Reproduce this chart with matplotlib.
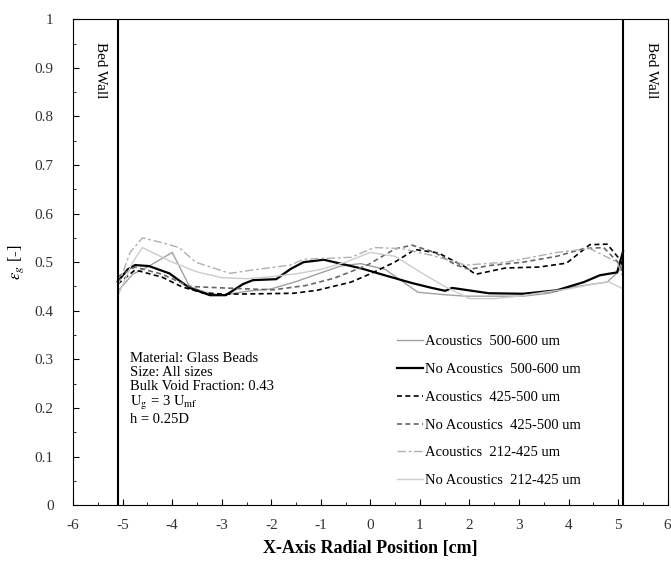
import matplotlib

matplotlib.use("Agg")
import matplotlib.pyplot as plt  # noqa: E402
from matplotlib.ticker import MultipleLocator  # noqa: E402

plt.rcParams["font.family"] = ["Liberation Serif", "DejaVu Serif"]
plt.rcParams["mathtext.fontset"] = "stix"
plt.rcParams["axes.unicode_minus"] = False

# --- data (x in cm, void fraction) ---
x_ac_500 = [-5.1, -4.8, -4.5, -4.0, -3.65, -3.3, -3.0, -2.5, -2.0, -1.5, -1.0, -0.6,
            -0.2, 0.3, 0.96, 1.5, 1.92, 2.5, 3.08, 3.6, 4.1, 4.78, 5.0, 5.1]
y_ac_500 = [0.44, 0.475, 0.49, 0.52, 0.45, 0.437, 0.432, 0.44, 0.445, 0.46, 0.478, 0.492,
            0.497, 0.485, 0.438, 0.433, 0.43, 0.43, 0.43, 0.436, 0.449, 0.459, 0.48, 0.5]

x_noac_500 = [-5.1, -4.9, -4.75, -4.47, -4.06, -3.65, -3.24, -2.92, -2.57, -2.37, -1.9,
              -1.61, -1.35, -0.94, -0.73, -0.18, 0.29, 0.84, 1.24, 1.51, 1.65, 1.92,
              2.39, 3.08, 3.76, 4.31, 4.63, 4.98, 5.1]
y_noac_500 = [0.46, 0.485, 0.494, 0.492, 0.477, 0.447, 0.432, 0.432, 0.455, 0.463, 0.465,
              0.486, 0.5, 0.505, 0.5, 0.487, 0.473, 0.457, 0.447, 0.441, 0.447, 0.443,
              0.436, 0.435, 0.442, 0.459, 0.473, 0.479, 0.522]

x_ac_425 = [-5.1, -4.75, -4.2, -3.8, -3.39, -2.92, -2.2, -1.55, -1.08, -0.39, 0.02, 0.49,
            0.9, 1.37, 1.92, 2.12, 2.73, 3.41, 3.96, 4.43, 4.78, 5.04, 5.1]
y_ac_425 = [0.455, 0.484, 0.469, 0.449, 0.437, 0.434, 0.435, 0.436, 0.442, 0.459, 0.477,
            0.5, 0.526, 0.519, 0.49, 0.475, 0.488, 0.49, 0.498, 0.536, 0.537, 0.505, 0.49]

x_noac_425 = [-5.1, -4.75, -4.2, -3.65, -2.98, -1.96, -1.3, -0.73, -0.06, 0.49, 0.84, 1.3,
              1.71, 2.0, 2.39, 3.08, 3.76, 4.31, 4.71, 5.04, 5.1]
y_noac_425 = [0.47, 0.49, 0.475, 0.45, 0.447, 0.443, 0.452, 0.467, 0.494, 0.527, 0.535,
              0.52, 0.495, 0.485, 0.493, 0.5, 0.512, 0.528, 0.53, 0.495, 0.47]

x_ac_212 = [-5.1, -4.85, -4.6, -4.2, -3.86, -3.53, -2.84, -2.37, -1.61, -1.35, -0.39, 0.08,
            0.63, 1.24, 1.92, 2.73, 3.76, 4.43, 4.98, 5.1]
y_ac_212 = [0.45, 0.52, 0.55, 0.54, 0.53, 0.5, 0.477, 0.484, 0.494, 0.506, 0.51, 0.53,
            0.528, 0.514, 0.494, 0.5, 0.52, 0.528, 0.5, 0.47]

x_noac_212 = [-5.1, -4.8, -4.6, -4.3, -4.0, -3.5, -3.0, -2.5, -2.0, -1.5, -1.0, -0.5, 0.0,
              0.5, 1.0, 1.5, 2.0, 2.5, 3.0, 3.5, 4.0, 4.5, 4.8, 5.1]
y_noac_212 = [0.43, 0.5, 0.53, 0.515, 0.5, 0.48, 0.468, 0.466, 0.47, 0.476, 0.485, 0.5,
              0.52, 0.512, 0.48, 0.45, 0.425, 0.425, 0.43, 0.438, 0.445, 0.455, 0.46, 0.445]

wall_x = [-5.1, 5.1]

fig = plt.figure(figsize=(6.71, 5.65), dpi=100)
ax = fig.add_axes([0.109, 0.106, 0.886, 0.86])

ax.plot(x_ac_500, y_ac_500, color="#a0a0a0", lw=1.0, label="Acoustics  500-600 um")
ax.plot(x_noac_500, y_noac_500, color="black", lw=1.6, label="No Acoustics  500-600 um")
ax.plot(x_ac_425, y_ac_425, color="black", lw=1.2, ls=(0, (3, 2)),
        label="Acoustics  425-500 um")
ax.plot(x_noac_425, y_noac_425, color="#666666", lw=1.2, ls=(0, (3, 2)),
        label="No Acoustics  425-500 um")
ax.plot(x_ac_212, y_ac_212, color="#b0b0b0", lw=1.0, ls=(0, (6, 2, 2, 2)),
        label="Acoustics  212-425 um")
ax.plot(x_noac_212, y_noac_212, color="#cccccc", lw=1.0, label="No Acoustics  212-425 um")

for wx in wall_x:
    ax.axvline(wx, color="black", lw=1.5)

ax.text(-5.45, 0.895, "Bed Wall", rotation=270, ha="center", va="center", fontsize=11)
ax.text(5.68, 0.895, "Bed Wall", rotation=270, ha="center", va="center", fontsize=11)

ax.text(-4.86, 0.315,
        "Material: Glass Beads\nSize: All sizes\nBulk Void Fraction: 0.43\n"
        "$\\mathrm{U_g}$ = 3 $\\mathrm{U_{mf}}$\nh = 0.25D",
        ha="left", va="top", fontsize=10.5, linespacing=1.1)

ax.legend(loc="upper left", bbox_to_anchor=(0.535, 0.362), frameon=False, fontsize=10.5,
          handlelength=1.8, handletextpad=0.1, labelspacing=1.0, borderaxespad=0.0)

ax.set_xlim(-6, 6)
ax.set_ylim(0, 1)
ax.xaxis.set_major_locator(MultipleLocator(1))
ax.xaxis.set_minor_locator(MultipleLocator(0.5))
ax.yaxis.set_major_locator(MultipleLocator(0.1))
ax.yaxis.set_minor_locator(MultipleLocator(0.05))
ax.tick_params(which="both", direction="in", labelsize=11, colors="black",
               labelcolor="#333333")
ax.tick_params(which="major", length=4)
ax.tick_params(which="minor", length=2)
ax.tick_params(axis="x", pad=10)
ax.tick_params(axis="y", pad=14)
ax.set_yticks([0, 0.1, 0.2, 0.3, 0.4, 0.5, 0.6, 0.7, 0.8, 0.9, 1.0])
ax.set_yticklabels(["0", "0.1", "0.2", "0.3", "0.4", "0.5", "0.6", "0.7", "0.8", "0.9", "1"])

ax.set_xlabel("X-Axis Radial Position [cm]", fontsize=13, fontweight="bold", labelpad=6)
ax.set_ylabel("$\\epsilon_g$ [-]", fontsize=12, labelpad=6)

fig.savefig("out.png", dpi=100)
